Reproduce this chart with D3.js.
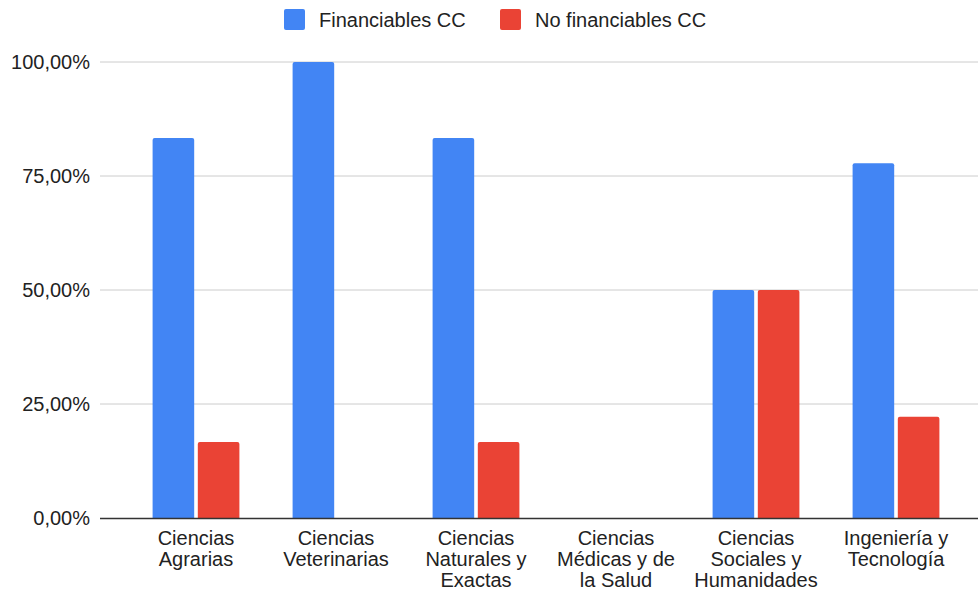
<!DOCTYPE html>
<html>
<head>
<meta charset="utf-8">
<script src="https://cdn.jsdelivr.net/npm/d3@7"></script>
<style>
  body { margin: 0; background: #fff; }
  text { font-family: "Liberation Sans", Arial, sans-serif; fill: #222; }
</style>
</head>
<body>
<div id="chart"></div>
<script>
// data
var categories = [
  ["Ciencias", "Agrarias"],
  ["Ciencias", "Veterinarias"],
  ["Ciencias", "Naturales y", "Exactas"],
  ["Ciencias", "Médicas y de", "la Salud"],
  ["Ciencias", "Sociales y", "Humanidades"],
  ["Ingeniería y", "Tecnología"]
];
var seriesNames = ["Financiables CC", "No financiables CC"];
var financiables = [83.33, 100, 83.33, 0, 50, 77.78];
var noFinanciables = [16.67, 0, 16.67, 0, 50, 22.22];
var yTicks = [0, 25, 50, 75, 100];
var colors = ["#4285f4", "#ea4335"];

var width = 978, height = 592;

var svg = d3.select("#chart")
    .append("svg")
    .attr("width", width)
    .attr("height", height);

var x = d3.scaleBand()
    .domain(d3.range(categories.length))
    .range([126, 966])
    .paddingInner(0.38)
    .paddingOuter(0.19);

var xInner = d3.scaleBand()
    .domain([0, 1])
    .range([0, x.bandwidth()])
    .paddingInner(0.08);

var y = d3.scaleLinear()
    .domain([0, 100])
    .range([518, 62]);

var fmt = function(d) { return d3.format(".2f")(d).replace(".", ",") + "%"; };

// gridlines
svg.append("g")
    .selectAll("line")
    .data(yTicks.slice(1))
    .enter()
    .append("line")
    .attr("x1", 100)
    .attr("x2", 978)
    .attr("y1", function(d) { return y(d); })
    .attr("y2", function(d) { return y(d); })
    .attr("stroke", "#cccccc")
    .attr("stroke-width", 1);

// y labels
svg.append("g")
    .selectAll("text")
    .data(yTicks)
    .enter()
    .append("text")
    .attr("x", 90)
    .attr("y", function(d) { return y(d); })
    .attr("dy", "0.35em")
    .attr("text-anchor", "end")
    .style("font-size", "20px")
    .text(fmt);

// bars with rounded tops
function barPath(x0, w, top, bottom) {
  var r = Math.min(2, (bottom - top) / 2);
  if (bottom - top <= 0) return "";
  return "M" + x0 + "," + bottom +
    "V" + (top + r) +
    "Q" + x0 + "," + top + " " + (x0 + r) + "," + top +
    "H" + (x0 + w - r) +
    "Q" + (x0 + w) + "," + top + " " + (x0 + w) + "," + (top + r) +
    "V" + bottom + "Z";
}

[financiables, noFinanciables].forEach(function(values, s) {
  svg.append("g")
    .selectAll("path")
    .data(values)
    .enter()
    .append("path")
    .attr("d", function(d, i) {
      return barPath(x(i) + xInner(s), xInner.bandwidth(), y(d), y(0));
    })
    .attr("fill", colors[s]);
});

// baseline
svg.append("line")
    .attr("x1", 100)
    .attr("x2", 978)
    .attr("y1", y(0) + 0.5)
    .attr("y2", y(0) + 0.5)
    .attr("stroke", "#333333")
    .attr("stroke-width", 1.3);

// category labels
var cat = svg.append("g")
    .selectAll("text")
    .data(categories)
    .enter()
    .append("text")
    .attr("text-anchor", "middle")
    .style("font-size", "20px");
cat.selectAll("tspan")
    .data(function(d, i) { return d.map(function(t) { return {t: t, i: i}; }); })
    .enter()
    .append("tspan")
    .attr("x", function(d) { return x(d.i) + x.bandwidth() / 2; })
    .attr("y", function(d, j) { return 545 + j * 21; })
    .text(function(d) { return d.t; });

// legend
var legendX = [284, 500];
var legend = svg.append("g")
    .selectAll("g")
    .data(seriesNames)
    .enter()
    .append("g")
    .attr("transform", function(d, i) { return "translate(" + legendX[i] + ",9)"; });
legend.append("rect")
    .attr("width", 21)
    .attr("height", 21)
    .attr("rx", 2)
    .attr("fill", function(d, i) { return colors[i]; });
legend.append("text")
    .attr("x", 35)
    .attr("y", 10.5)
    .attr("dy", "0.35em")
    .style("font-size", "20px")
    .text(function(d) { return d; });
</script>
</body>
</html>
